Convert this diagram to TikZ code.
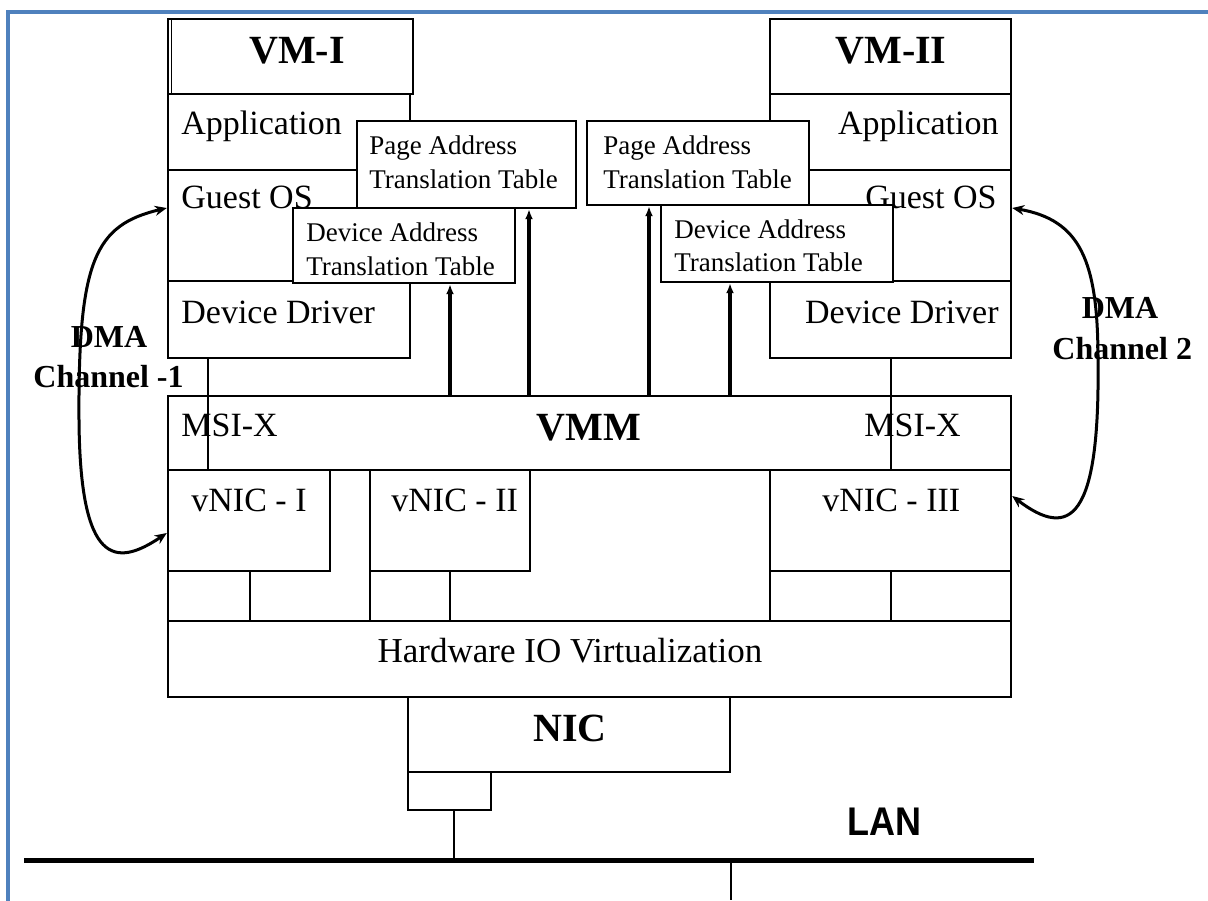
\documentclass[tikz,border=0pt]{standalone}
\usepackage{fontspec}
\setmainfont{Liberation Serif}
\newfontfamily\lansans{Liberation Sans}
\usetikzlibrary{fit,arrows.meta}
\definecolor{frameblue}{RGB}{79,129,189}
\begin{document}
\begin{tikzpicture}[x=0.5pt,y=-0.5pt,
  box/.style={draw, line width=1.2pt, fill=white, inner sep=0pt},
  lbl/.style={inner sep=0pt, anchor=base west, font=\fontsize{17}{17}\selectfont},
  lblr/.style={lbl, anchor=base east},
  tbl/.style={inner sep=0pt, anchor=base west, font=\fontsize{13.5}{13.5}\selectfont},
  ttl/.style={inner sep=0pt, anchor=base, font=\fontsize{20}{20}\selectfont\bfseries},
  dma/.style={inner sep=0pt, font=\fontsize{16}{16}\selectfont\bfseries},
  upar/.style={line width=1.6pt, -{Latex[length=5pt,width=4pt]}},
  link/.style={line width=1.1pt},
  dmaar/.style={line width=1.5pt, {Stealth[length=6pt,width=5pt]}-{Stealth[length=6pt,width=5pt]}}
]
\useasboundingbox (0,0) rectangle (1208,900);
% outer blue frame
\draw[frameblue, line width=1.6pt] (8,930) -- (8,12) -- (1230,12);

% VM-I stack
\node[box, fit={(168,19) (413,94)}] (vm1) {};
\draw[line width=0.8pt] (171.5,19) -- (171.5,94);
\node[box, fit={(168,94) (410,170)}] (app1) {};
\node[box, fit={(168,170) (410,281)}] (gos1) {};
\node[box, fit={(168,281) (410,358)}] (dd1) {};
% VM-II stack
\node[box, fit={(770,19) (1011,94)}] (vm2) {};
\node[box, fit={(770,94) (1011,170)}] (app2) {};
\node[box, fit={(770,170) (1011,281)}] (gos2) {};
\node[box, fit={(770,281) (1011,358)}] (dd2) {};

\node[ttl] (vm1t) at (297,63) {VM-I};
\node[ttl] (vm2t) at (891,63) {VM-II};
\node[lbl] (app1t) at (181,134) {Application};
\node[lblr] (app2t) at (999,134) {Application};
\node[lbl] (gos1t) at (181,208) {Guest OS};
\node[lblr] (gos2t) at (997,208) {Guest OS};
\node[lbl] (dd1t) at (181,323) {Device Driver};
\node[lblr] (dd2t) at (999,323) {Device Driver};

% translation tables
\node[box, fit={(357,121) (576,208)}] (patt1) {};
\node[box, fit={(293,208) (515,283)}] (datt1) {};
\node[box, fit={(587,121) (809,205)}] (patt2) {};
\node[box, fit={(661,205) (893,282)}] (datt2) {};
\node[tbl] (patt1a) at (369,154) {Page Address};
\node[tbl] (patt1b) at (369,188) {Translation Table};
\node[tbl] (datt1a) at (306,241) {Device Address};
\node[tbl] (datt1b) at (306,275) {Translation Table};
\node[tbl] (patt2a) at (603,154) {Page Address};
\node[tbl] (patt2b) at (603,188) {Translation Table};
\node[tbl] (datt2a) at (674,238) {Device Address};
\node[tbl] (datt2b) at (674,271) {Translation Table};

% VMM
\node[box, fit={(168,396) (1011,470)}] (vmm) {};
\node[ttl] (vmmt) at (589,440) {VMM};
\node[lbl] (msi1) at (181,436) {MSI-X};
\node[lbl] (msi2) at (864,436) {MSI-X};

% vNICs
\node[box, fit={(168,470) (330,571)}] (vnic1) {};
\node[box, fit={(370,470) (530,571)}] (vnic2) {};
\node[box, fit={(770,470) (1011,571)}] (vnic3) {};
\node[lbl] (vnic1t) at (191,511) {vNIC - I};
\node[lbl] (vnic2t) at (391,511) {vNIC - II};
\node[lbl] (vnic3t) at (822,511) {vNIC - III};

% hardware IO virtualization
\node[box, fit={(168,621) (1011,697)}] (hwio) {};
\node[inner sep=0pt, anchor=base, font=\fontsize{17.5}{17.5}\selectfont] (hwiot) at (570,662) {Hardware IO Virtualization};

% lower row dividers
\foreach \xx in {168,250,370,450,770,891,1011}
  \draw[link] (\xx,571) -- (\xx,621);

% NIC
\node[box, fit={(408,697) (730,772)}] (nic) {};
\node[ttl] (nict) at (570,741) {NIC};
\node[box, fit={(408,772) (491,810)}] (port) {};

% LAN
\coordinate (lanL) at (24,860);
\coordinate (lanR) at (1034,860);
\draw[line width=2.5pt] (lanL) -- (lanR);
\draw[line width=0.8pt] (454,810) -- (454,858);
\coordinate (drop) at (731,900);
\draw[line width=0.8pt] (731,862) -- (drop);
\node[inner sep=0pt, anchor=base, xscale=0.9, font=\lansans\fontsize{20}{20}\selectfont\bfseries] (lant) at (884,835) {LAN};

% driver to vNIC links
\draw[link] (dd1.south -| 208,0) -- (vnic1.north -| 208,0);
\draw[link] (dd2.south -| 891,0) -- (vnic3.north -| 891,0);

% VMM to tables arrows
\draw[upar] (vmm.north -| 450,0) -- (datt1.south -| 450,0);
\draw[upar] (vmm.north -| 529,0) -- (patt1.south -| 529,0);
\draw[upar] (vmm.north -| 649,0) -- (patt2.south -| 649,0);
\draw[upar] (vmm.north -| 730,0) -- (datt2.south -| 730,0);

% DMA channels
\draw[dmaar] (vnic1.west |- 0,533) .. controls (115,568) and (80,565) .. (79,420)
   .. controls (78,260) and (95,225) .. (gos1.west |- 0,208);
\draw[dmaar] (gos2.east |- 0,208) .. controls (1080,220) and (1098,260) .. (1098,360)
   .. controls (1100,520) and (1070,540) .. (vnic3.east |- 0,496);
\node[dma, anchor=base] (dma1) at (109,347) {DMA};
\node[dma, anchor=base west] (ch1) at (33,387) {Channel -1};
\node[dma, anchor=base] (dma2) at (1120,318) {DMA};
\node[dma, anchor=base west] (ch2) at (1052,359) {Channel 2};
\end{tikzpicture}
\end{document}
